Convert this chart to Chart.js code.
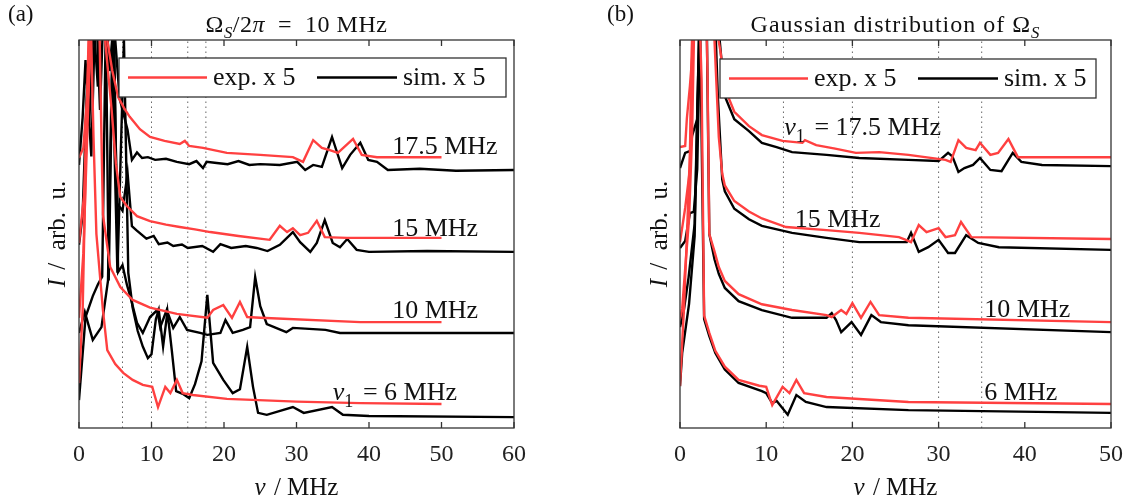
<!DOCTYPE html>
<html>
<head>
<meta charset="utf-8">
<script src="https://cdn.jsdelivr.net/npm/chart.js@4.4.0/dist/chart.umd.min.js"></script>
<style>
  html, body { margin: 0; padding: 0; background: #fff; }
  #wrap { position: relative; width: 1135px; height: 503px; }
  #ca { position: absolute; left: 0; top: 0; }
  #cb { position: absolute; left: 567px; top: 0; }
</style>
</head>
<body>
<div id="wrap">
  <canvas id="ca" width="567" height="503"></canvas>
  <canvas id="cb" width="568" height="503"></canvas>
</div>
<script>
// x in MHz, y in arb. u. (traces offset for readability)
var aExp175 = [[0,69.6],[0.6,72.2],[1.2,87],[1.8,115],[2.6,130],[3.4,115],[3.9,100],[4.6,92],[5.4,85.3],[6.2,82.5],[7.0,80.2],[8.4,77],[9.8,75],[11.8,74],[13.9,73.2],[14.6,74],[15.2,72.7],[17.1,72.2],[20.4,70.9],[25,70.4],[29.5,69.8],[30.9,68.6],[32.3,74.2],[33.5,72.2],[34.6,71.6],[35.7,70.9],[37.8,74.5],[39.0,70.4],[41.1,69.8],[50,69.8]];
var aSim175 = [[0,67.8],[0.5,80],[0.9,94.8],[1.4,78],[2.0,105],[2.6,88],[3.2,120],[3.9,98],[4.6,110],[5.6,85],[6.7,76.8],[7.3,69.1],[8.0,71],[8.7,69.6],[9.5,69.8],[10.5,69.1],[12,69.4],[13.5,68.6],[15.2,68],[16.2,68.8],[17.1,67],[17.6,68.6],[19,68.3],[20.5,68],[22,68.8],[23.5,67.8],[25,68],[27.7,67.8],[30.1,68.6],[31.2,66.5],[32.3,67.8],[33.5,67.3],[34.9,75],[36.3,67],[37.4,70.4],[38.8,73.5],[39.9,69.1],[41.1,68.6],[42.6,66.5],[47,66.8],[52,66.3],[60,66.5]];
var aExp15 = [[0,47.7],[0.7,60],[1.3,95],[1.9,125],[2.7,130],[3.3,115],[3.6,100],[4.5,82],[5.1,68],[5.7,59.5],[6.6,57.2],[8.0,54.6],[9.8,53.3],[12,52.4],[13.9,51.8],[16,51.2],[18.1,50.5],[22,49.5],[26.3,48.5],[27.7,52.1],[28.7,50.5],[29.5,51.5],[30.5,49.7],[31.6,50.3],[32.8,53.4],[33.9,49.2],[37,49],[50,49]];
var aSim15 = [[0,47.2],[0.5,55],[1.1,88],[1.7,70],[2.3,112],[2.9,82],[3.5,115],[4.2,92],[4.8,105],[5.2,58],[6.0,56],[6.7,65.7],[7.3,52],[7.9,51],[9.3,48.8],[10.3,49.5],[11,47.4],[12.2,47.8],[13,46.9],[14.2,47.3],[15,46.4],[17,46.9],[18.5,45.4],[19.5,47.4],[21,46.4],[23,46.9],[24.5,46.4],[26,45.6],[27.7,47.2],[29.5,50.5],[30.5,47.9],[31.9,45.4],[32.8,47.7],[33.9,53.6],[35.0,47.7],[36.0,46.6],[37.0,48.7],[38.3,45.9],[40,45.4],[48,45.6],[60,45.4]];
var aExp10 = [[0,28.4],[0.6,45],[1.3,85],[2.0,120],[2.6,125],[3.3,55],[4.3,41.5],[5.7,36.3],[7.4,33],[9.8,31],[13.5,29.4],[17.7,28.4],[18.5,30.4],[19.9,31.7],[21.1,28.4],[22.2,32.5],[23.2,28.6],[25,28.4],[38.8,27.3],[50,27.3]];
var aSim10 = [[0,24.5],[0.8,29.9],[1.9,22.7],[3.1,26.0],[4.0,38],[4.7,110],[5.4,40.2],[6.0,42],[6.6,37],[7.2,33],[8.0,27.1],[8.8,24.5],[9.8,28.6],[10.8,30.4],[11.2,26],[12.1,30.4],[13.0,25.8],[13.9,28.6],[14.9,25.3],[16.7,24.5],[17.7,24],[19.5,24.5],[20.2,27.8],[21.2,24.5],[22.6,25.3],[23.6,26],[24.3,38.9],[25.0,31.4],[25.9,26.8],[28.6,24.7],[29.5,25.8],[34,25.3],[36,24.5],[60,24.5]];
var aExp6 = [[0,11.6],[0.5,30],[1.0,75],[1.5,115],[2.0,75],[2.4,50],[3.3,30.4],[3.9,20.1],[5.0,16.5],[6.1,14.2],[7.4,12.4],[8.8,11.1],[10.1,10.6],[10.9,5.4],[11.9,10.6],[12.6,9],[13.5,12.4],[14.3,9],[15.7,8.5],[20.4,7.5],[30,6.8],[38.8,6.4],[50,6.2]];
var aSim6 = [[0,7.2],[0.9,28.6],[1.9,34],[2.6,37],[3.2,39],[3.7,105],[4.1,38],[4.6,95],[5.3,40],[6.2,100],[6.8,40],[7.4,31],[8.1,25],[8.8,21],[9.5,18],[10.0,19],[10.6,28],[11.0,30.4],[11.6,21],[12.2,30],[12.8,20],[13.4,9.5],[14.3,8.8],[15.2,7.7],[16.0,11.3],[16.9,17.2],[17.7,34.3],[18.5,16.8],[19.9,12.4],[21.2,9.0],[22.2,10],[23.2,20.9],[24.0,10.6],[24.7,3.9],[25.9,3.4],[29.5,5.4],[31,3.9],[34.9,5.4],[36.4,3.4],[40,3.1],[60,2.8]];

var bExp175 = [[0,72.4],[0.6,72.7],[0.8,79.9],[1.15,88.1],[1.6,101],[2.2,125],[3.0,130],[3.6,115],[4.0,106],[4.7,97],[5.2,87.5],[6.3,81.5],[8.0,77.8],[9.5,75.5],[11.9,74.0],[14.2,73.5],[14.5,74.2],[15.8,72.9],[18,72],[20.4,70.9],[23.1,71.1],[26.5,70.4],[30.8,69.1],[31.4,68.6],[32.3,74.2],[33.2,72.2],[34.3,71.6],[34.8,73.5],[36.0,70.4],[36.9,70.9],[38.1,74.5],[39.2,69.8],[50,69.8]];
var bSim175 = [[0,67.0],[0.6,70.9],[1.2,71.4],[1.4,75.3],[2.0,79.6],[2.3,100],[2.7,125],[3.3,120],[4.0,110],[4.6,100],[5.2,85.5],[6.3,79.6],[8.0,76.5],[9.5,73.5],[11.2,72.4],[13,71.1],[17,70.4],[20.8,69.6],[26.5,69.1],[30.0,68.8],[31.1,70.9],[31.6,70],[32.3,66],[33.0,67],[34,67.8],[34.8,69.6],[36,66.5],[37.3,66.2],[38.6,70.9],[39.6,68.6],[42,67.8],[50,67.5]];
var bExp15 = [[0,47.9],[0.6,56.7],[1.15,66.7],[1.4,100],[1.8,125],[2.4,110],[3.0,130],[3.6,120],[4.0,100],[4.5,75],[4.9,65.5],[5.2,62.5],[6.3,58.5],[8.0,55.8],[9.5,54.0],[12.3,51.8],[17,51],[20.8,50.3],[25.4,49.2],[26.2,48.5],[26.8,47.9],[27.7,52.3],[28.6,50.5],[30,51.5],[30.8,49.2],[31.9,49.7],[32.6,53.1],[33.8,49.2],[50,48.7]];
var bSim15 = [[0,46.4],[0.6,48.2],[1.15,55.4],[1.6,55.7],[2.0,66.8],[2.3,100],[2.7,125],[3.3,120],[4.0,110],[4.4,85],[4.9,64],[5.2,61],[6.3,56.5],[8.0,53.8],[9.5,52.1],[13,50.3],[17,49],[20.8,47.9],[26.3,47.9],[26.8,50.3],[27.7,45.4],[28.8,46.6],[30,48.5],[31.1,45.1],[31.9,45.1],[33.2,49.7],[34.6,47.7],[37,46.6],[50,45.9]];
var bExp10 = [[0,28.1],[0.25,30.7],[0.6,41],[1.05,53.9],[1.4,75.3],[1.7,110],[2.3,120],[2.9,125],[3.2,90],[3.4,50],[4.0,45.5],[4.5,41.5],[5.2,37.9],[6.8,34.5],[9.5,31.9],[13,30.4],[17,29.1],[17.6,28.6],[18.7,30.4],[19.3,29.4],[20,32.2],[21,28.4],[22.1,32.5],[23.1,29.1],[26.5,28.4],[50,27.3]];
var bSim10 = [[0,26.0],[0.45,30.4],[1.0,38.9],[1.7,52.6],[2.3,110],[2.7,125],[3.1,105],[3.4,50],[4.0,43.5],[4.5,39.7],[5.2,36.1],[6.8,32.7],[9.5,30.4],[13,28.4],[17,28.4],[17.6,29.6],[18.1,27.8],[18.7,24.7],[19.9,27.3],[21,24],[22.2,29.1],[23.3,27.3],[26.5,26.5],[50,24.7]];
var bExp6 = [[0,10.8],[0.45,30.4],[0.8,49.2],[1.15,70.9],[1.5,110],[2.0,125],[2.5,90],[2.8,29],[3.4,24.5],[4.1,19.9],[5.2,15.8],[6.8,12.4],[9.2,10.9],[10.0,10.6],[10.7,5.9],[11.9,10.6],[12.7,9.0],[13.5,12.4],[14.4,9.0],[17,8.0],[26.5,6.7],[50,6.2]];
var bSim6 = [[0,10.8],[0.25,19.3],[1.05,32],[1.7,49.5],[2.0,80],[2.3,110],[2.6,60],[2.8,28.1],[3.4,23.7],[4.1,19.3],[5.2,15.1],[6.8,11.6],[9.5,9.5],[10,9.0],[10.7,6.4],[11.2,7],[12.5,3.4],[13.5,8.5],[14.6,6.7],[17,5.4],[26.5,4.6],[50,3.9]];

var aMarks = [6, 10, 15, 17.5];
var bMarks = [12, 20, 30, 35];

var RED = '#ff4040';
var SERIF = '"Liberation Serif", "Times New Roman", serif';

function pts(arr) {
  return arr.map(function (p) { return {x: p[0], y: p[1]}; });
}

function trace(arr, color, order) {
  return {data: pts(arr), borderColor: color, borderWidth: 2.4, pointRadius: 0, tension: 0, order: order};
}

function mark(v) {
  return {data: [{x: v, y: 0}, {x: v, y: 100}], borderColor: '#666', borderWidth: 1,
          borderDash: [1.5, 3.5], pointRadius: 0, order: 5};
}

// draws text made of plain / italic / subscript parts
function rich(ctx, parts, x, y, size, align) {
  var w = 0;
  parts.forEach(function (p) {
    ctx.font = (p.it ? 'italic ' : '') + (p.sub ? size * 0.7 : size) + 'px ' + SERIF;
    p.w = ctx.measureText(p.t).width + (p.gap || 0);
    w += p.w;
  });
  var cx = align === 'center' ? x - w / 2 : x;
  parts.forEach(function (p) {
    ctx.font = (p.it ? 'italic ' : '') + (p.sub ? size * 0.7 : size) + 'px ' + SERIF;
    ctx.fillText(p.t, cx, y + (p.sub ? size * 0.25 : 0));
    cx += p.w;
  });
}

function decor(cfg) {
  return {
    id: 'decor',
    afterDatasetsDraw: function (chart) {
      var ctx = chart.ctx, a = chart.chartArea, x = chart.scales.x, y = chart.scales.y;
      ctx.save();
      ctx.fillStyle = '#111';
      ctx.textBaseline = 'alphabetic';
      ctx.textAlign = 'left';
      cfg.notes.forEach(function (n) {
        rich(ctx, n.parts, x.getPixelForValue(n.x), y.getPixelForValue(n.y), 26, 'left');
      });

      // legend box
      var lx = a.left + 40, ly = a.top + cfg.legTop, lw = a.right - cfg.legRight - lx, lh = 39;
      ctx.fillStyle = '#fff';
      ctx.fillRect(lx, ly, lw, lh);
      ctx.strokeStyle = '#333';
      ctx.lineWidth = 1.3;
      ctx.strokeRect(lx, ly, lw, lh);
      var my = ly + lh / 2;
      ctx.lineWidth = 2.6;
      ctx.strokeStyle = RED;
      ctx.beginPath(); ctx.moveTo(lx + 9, my); ctx.lineTo(lx + 88, my); ctx.stroke();
      ctx.strokeStyle = '#000';
      ctx.beginPath(); ctx.moveTo(lx + 198, my); ctx.lineTo(lx + 278, my); ctx.stroke();
      ctx.fillStyle = '#111';
      rich(ctx, [{t: 'exp.', gap: 6}, {t: 'x 5'}], lx + 94, my + 7, 26, 'left');
      rich(ctx, [{t: 'sim.', gap: 6}, {t: 'x 5'}], lx + 284, my + 7, 26, 'left');

      // frame and inner ticks
      ctx.strokeStyle = '#333';
      ctx.lineWidth = 1.3;
      ctx.strokeRect(a.left, a.top, a.right - a.left, a.bottom - a.top);
      ctx.beginPath();
      x.ticks.forEach(function (t) {
        var px = x.getPixelForValue(t.value);
        ctx.moveTo(px, a.bottom); ctx.lineTo(px, a.bottom - 6);
        ctx.moveTo(px, a.top); ctx.lineTo(px, a.top + 6);
      });
      ctx.stroke();
      ctx.restore();
    },
    afterDraw: function (chart) {
      var ctx = chart.ctx, a = chart.chartArea;
      var cx = (a.left + a.right) / 2;
      ctx.save();
      ctx.fillStyle = '#111';
      ctx.textBaseline = 'alphabetic';
      ctx.letterSpacing = cfg.titleSpacing;
      rich(ctx, cfg.title, cx, 32, 24, 'center');
      ctx.letterSpacing = '0px';
      rich(ctx, [{t: cfg.tag}], cfg.tagX, 21, 23, 'left');
      rich(ctx, [{t: 'ν', it: true, gap: 2}, {t: ' / MHz'}], cx, 495, 25, 'center');
      ctx.translate(cfg.yTitleX, (a.top + a.bottom) / 2);
      ctx.rotate(-Math.PI / 2);
      rich(ctx, [{t: 'I', it: true, gap: 3}, {t: ' /  arb.  u.'}], 0, 0, 25, 'center');
      ctx.restore();
    }
  };
}

function makeChart(id, cfg) {
  var datasets = [];
  cfg.marks.forEach(function (v) { datasets.push(mark(v)); });
  cfg.exp.forEach(function (s) { datasets.push(trace(s, RED, 1)); });
  cfg.sim.forEach(function (s) { datasets.push(trace(s, '#000', 2)); });
  return new Chart(document.getElementById(id).getContext('2d'), {
    type: 'line',
    data: {datasets: datasets},
    options: {
      responsive: false,
      animation: false,
      layout: {padding: {left: cfg.padLeft, right: cfg.padRight, top: 40, bottom: 0}},
      scales: {
        x: {
          type: 'linear', min: 0, max: cfg.xMax,
          ticks: {stepSize: 10, padding: 12, color: '#222', maxRotation: 0,
                  font: {family: SERIF, size: 24}},
          grid: {display: false, drawTicks: false},
          border: {display: false},
          afterFit: function (s) { s.height = 75; }
        },
        y: {min: 0, max: 100, display: false}
      },
      plugins: {legend: {display: false}, tooltip: {enabled: false}}
    },
    plugins: [decor(cfg)]
  });
}

makeChart('ca', {
  xMax: 60, padLeft: 79, padRight: 53, marks: aMarks,
  exp: [aExp175, aExp15, aExp10, aExp6],
  sim: [aSim175, aSim15, aSim10, aSim6],
  legTop: 18, legRight: 8,
  tag: '(a)', tagX: 8, yTitleX: 65, titleSpacing: '0.5px',
  title: [{t: 'Ω'}, {t: 'S', it: true, sub: true}, {t: '/2'}, {t: 'π', it: true}, {t: '  =  10 MHz'}],
  notes: [
    {x: 43.2, y: 70.6, parts: [{t: '17.5 MHz'}]},
    {x: 43.2, y: 49.5, parts: [{t: '15 MHz'}]},
    {x: 43.2, y: 28.4, parts: [{t: '10 MHz'}]},
    {x: 35.0, y: 7.2, parts: [{t: 'ν', it: true}, {t: '1', sub: true, gap: 3}, {t: ' = 6 MHz'}]}
  ]
});

makeChart('cb', {
  xMax: 50, padLeft: 113, padRight: 21, marks: bMarks,
  exp: [bExp175, bExp15, bExp10, bExp6],
  sim: [bSim175, bSim15, bSim10, bSim6],
  legTop: 19, legRight: 15,
  tag: '(b)', tagX: 40, yTitleX: 100, titleSpacing: '1px',
  title: [{t: 'Gaussian distribution of Ω'}, {t: 'S', it: true, sub: true}],
  notes: [
    {x: 12.1, y: 75.5, parts: [{t: 'ν', it: true}, {t: '1', sub: true, gap: 3}, {t: ' = 17.5 MHz'}]},
    {x: 13.3, y: 51.8, parts: [{t: '15 MHz'}]},
    {x: 35.3, y: 28.6, parts: [{t: '10 MHz'}]},
    {x: 35.3, y: 7.2, parts: [{t: '6 MHz'}]}
  ]
});
</script>
</body>
</html>
